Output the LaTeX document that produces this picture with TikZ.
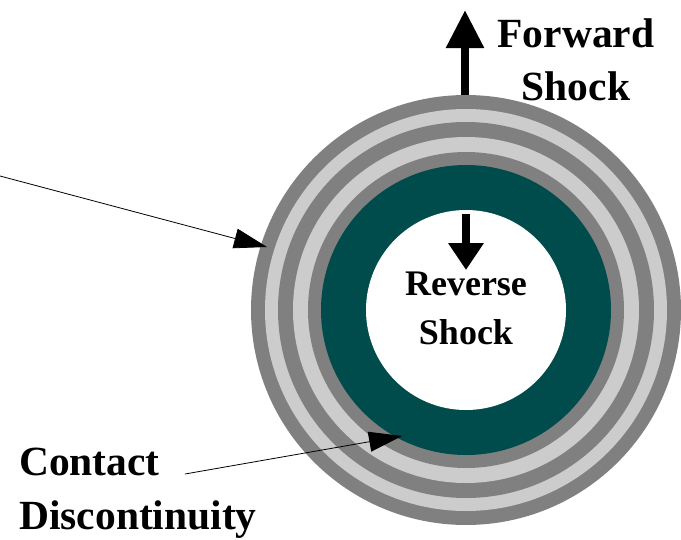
\documentclass[tikz,border=0pt]{standalone}
\usepackage{fontspec}
\setmainfont{Liberation Serif}
\usetikzlibrary{arrows.meta,positioning}
\definecolor{ringdark}{HTML}{808080}
\definecolor{ringlight}{HTML}{CCCCCC}
\definecolor{shell}{HTML}{004C4C}

\begin{document}
\begin{tikzpicture}[
    x=1pt, y=-1pt,
    bigtag/.style={font=\fontsize{41.5}{54}\selectfont\bfseries, inner sep=0pt},
    smalltag/.style={font=\fontsize{36}{49}\selectfont\bfseries, inner sep=0pt, align=center},
    shockarrow/.style={line width=8.5pt, -{Triangle[length=38pt,width=36pt]}},
    backarrow/.style={line width=8.5pt, -{Triangle[length=27pt,width=34pt]}},
    pointer/.style={line width=0.8pt, -{Triangle[length=33pt,width=20pt]}}
]
\useasboundingbox (0,0) rectangle (681,539);

% nested shells, outside in
\coordinate (centre) at (466,310);
\foreach \rad/\col in {215/ringdark, 201/ringlight, 188/ringdark, 173/ringlight, 158/ringdark, 145/shell, 100/white}
    \fill[\col] (centre) circle (\rad pt);
\node[circle, inner sep=0pt, minimum size=430pt] (outer) at (centre) {};
\node[circle, inner sep=0pt, minimum size=200pt] (inner) at (centre) {};

% shocks
\coordinate (fwdtip) at (465,10);
\coordinate (revtip) at (466,270);
\draw[shockarrow] ([xshift=-1pt]outer.north) -- (fwdtip);
\draw[backarrow] ([yshift=-4pt]inner.north) -- (revtip);

\node[bigtag, align=center, anchor=north] (forward) at (576,18) {Forward\\Shock};
\node[smalltag, anchor=north] (reverse) at (466,272) {Reverse\\Shock};
\node[bigtag, align=left, anchor=north west] (contact) at (19,448) {Contact\\Discontinuity};

% pointers
\coordinate (farleft) at (0,176);
\coordinate (ringtip) at (267,247);
\draw[pointer] (farleft) -- (ringtip);
\coordinate (contactfoot) at (185,474);
\coordinate (shelltip) at (402,436);
\draw[pointer] (contactfoot) -- (shelltip);
\end{tikzpicture}
\end{document}
